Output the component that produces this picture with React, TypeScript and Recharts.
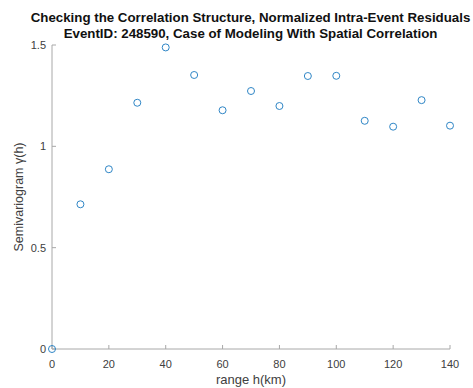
import { ScatterChart, Scatter, XAxis, YAxis } from "recharts";

const rangeKm = [0, 10, 20, 30, 40, 50, 60, 70, 80, 90, 100, 110, 120, 130, 140];
const semivariogram = [
  0, 0.714, 0.887, 1.215, 1.488, 1.352, 1.178, 1.273, 1.199, 1.347, 1.348, 1.126, 1.097, 1.228, 1.102
];
const xTicks = [0, 20, 40, 60, 80, 100, 120, 140];
const yTicks = [0, 0.5, 1, 1.5];

const titleLines = [
  "Checking the Correlation Structure, Normalized Intra-Event Residuals",
  "EventID: 248590, Case of Modeling With Spatial Correlation"
];

const rows = rangeKm.map((h, i) => ({ h, gamma: semivariogram[i] }));

const font = "'Liberation Sans', Arial, Helvetica, sans-serif";
const axisColor = "#a8a8a8";
const tickStyle = { fill: "#404040", fontSize: 11, fontFamily: font };

function Ring(props: any) {
  const { cx, cy } = props;
  if (cx == null || cy == null) return null;
  return <circle cx={cx} cy={cy} r={3.5} fill="none" stroke="#2f86c6" strokeWidth={1} />;
}

export default function App() {
  return (
    <div style={{ position: "absolute", left: 0, top: 0, width: 473, height: 388, background: "#fff" }}>
      <div
        style={{
          position: "absolute",
          top: 10,
          left: 0,
          width: 501,
          textAlign: "center",
          fontFamily: font,
          fontWeight: "bold",
          fontSize: 13.3,
          lineHeight: "16px",
          color: "#111"
        }}
      >
        {titleLines.map((t) => (
          <div key={t} style={{ whiteSpace: "nowrap" }}>{t}</div>
        ))}
      </div>
      <ScatterChart width={473} height={388} margin={{ top: 45, right: 23, bottom: 38, left: 51 }}>
        <XAxis
          type="number"
          dataKey="h"
          domain={[0, 140]}
          ticks={xTicks}
          height={1}
          stroke={axisColor}
          tickSize={-4}
          tickMargin={15}
          tick={tickStyle}
          label={{ value: "range h(km)", position: "bottom", offset: 25, fill: "#404040", fontSize: 13, fontFamily: font }}
        />
        <YAxis
          type="number"
          dataKey="gamma"
          domain={[0, 1.5]}
          ticks={yTicks}
          width={1}
          stroke={axisColor}
          tickSize={-4}
          tickMargin={10}
          tick={tickStyle}
          label={{
            value: "Semivariogram γ(h)",
            angle: -90,
            position: "left",
            offset: 32,
            fill: "#404040",
            fontSize: 12.5,
            fontFamily: font,
            style: { textAnchor: "middle" }
          }}
        />
        <Scatter data={rows} shape={<Ring />} isAnimationActive={false} />
      </ScatterChart>
    </div>
  );
}
